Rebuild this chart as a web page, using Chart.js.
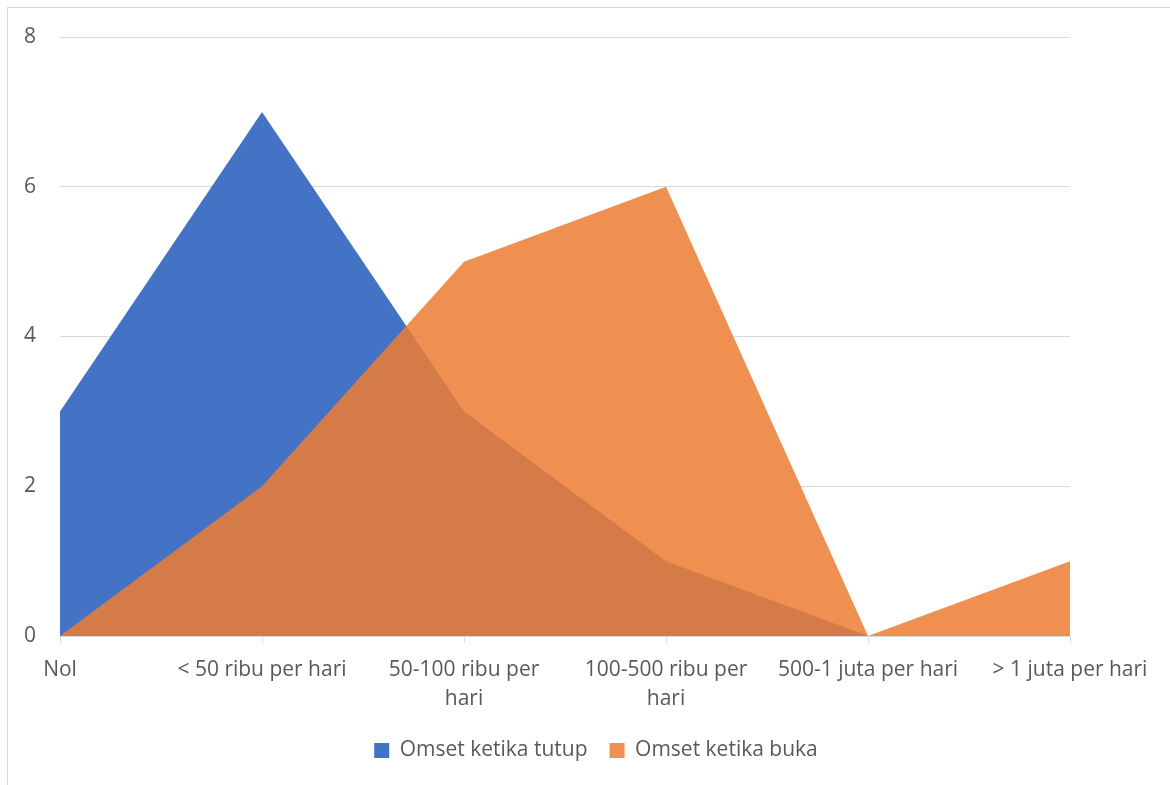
<!DOCTYPE html>
<html>
<head>
<meta charset="utf-8">
<script src="https://cdn.jsdelivr.net/npm/chart.js@4"></script>
<style>
  html, body { margin: 0; padding: 0; background: #fff; overflow: hidden; }
  #frame { position: absolute; left: 7px; top: 7px; width: 1180px; height: 800px; border: 1px solid #d9d9d9; }
  #wrap { position: absolute; left: 0; top: 0; width: 1170px; height: 785px; }
</style>
</head>
<body>
<div id="frame"></div>
<div id="wrap"><canvas id="chart"></canvas></div>
<script>
// categories and values
const categories = [
  "Nol",
  "< 50 ribu per hari",
  ["50-100 ribu per", "hari"],
  ["100-500 ribu per", "hari"],
  "500-1 juta per hari",
  "> 1 juta per hari"
];
const omsetTutup = [3, 7, 3, 1, 0, 0];
const omsetBuka = [0, 2, 5, 6, 0, 1];
const yTicks = [0, 2, 4, 6, 8];

const textColor = "#595959";
const gridColor = "#d9d9d9";
const font = { family: "'Open Sans', 'Noto Sans', sans-serif", size: 21 };

const ctx = document.getElementById("chart").getContext("2d");
new Chart(ctx, {
  type: "line",
  data: {
    labels: categories,
    datasets: [
      {
        label: "Omset ketika tutup",
        data: omsetTutup,
        backgroundColor: "#4472C4",
        borderWidth: 0,
        pointRadius: 0,
        fill: "origin",
        order: 2
      },
      {
        label: "Omset ketika buka",
        data: omsetBuka,
        backgroundColor: "rgba(237, 125, 49, 0.85)",
        borderWidth: 0,
        pointRadius: 0,
        fill: "origin",
        order: 1
      }
    ]
  },
  options: {
    responsive: true,
    maintainAspectRatio: false,
    animation: false,
    layout: { padding: { top: 37, right: 0, bottom: 14, left: 22 } },
    plugins: {
      tooltip: { enabled: false },
      legend: {
        position: "bottom",
        labels: {
          color: textColor,
          font: font,
          boxWidth: 15,
          boxHeight: 15,
          padding: 22,
          sort: (a, b) => a.datasetIndex - b.datasetIndex,
          generateLabels: (chart) => chart.data.datasets.map((ds, i) => ({
            text: ds.label,
            fillStyle: i === 1 ? "#F0914F" : ds.backgroundColor,
            strokeStyle: "transparent",
            lineWidth: 0,
            fontColor: textColor,
            datasetIndex: i
          }))
        }
      }
    },
    scales: {
      x: {
        offset: false,
        grid: { drawOnChartArea: false, drawTicks: true, tickLength: 7, color: gridColor },
        border: { display: true, color: gridColor },
        ticks: { color: textColor, font: { ...font, lineHeight: 1.35 }, padding: 13, maxRotation: 0, autoSkip: false },
        afterFit: (scale) => { scale.height = 82; }
      },
      y: {
        min: 0,
        max: 8,
        afterBuildTicks: (scale) => { scale.ticks = yTicks.map(v => ({ value: v })); },
        grid: { color: gridColor, drawTicks: false },
        border: { display: false },
        ticks: { color: textColor, font: font, padding: 24 },
        afterFit: (scale) => { scale.width = 38; }
      },
      // empty strip on the right so the legend centres like the reference
      yRight: {
        position: "right",
        min: 0,
        max: 8,
        grid: { display: false },
        border: { display: false },
        ticks: { display: false },
        afterFit: (scale) => { scale.width = 100; }
      }
    }
  }
});
</script>
</body>
</html>
